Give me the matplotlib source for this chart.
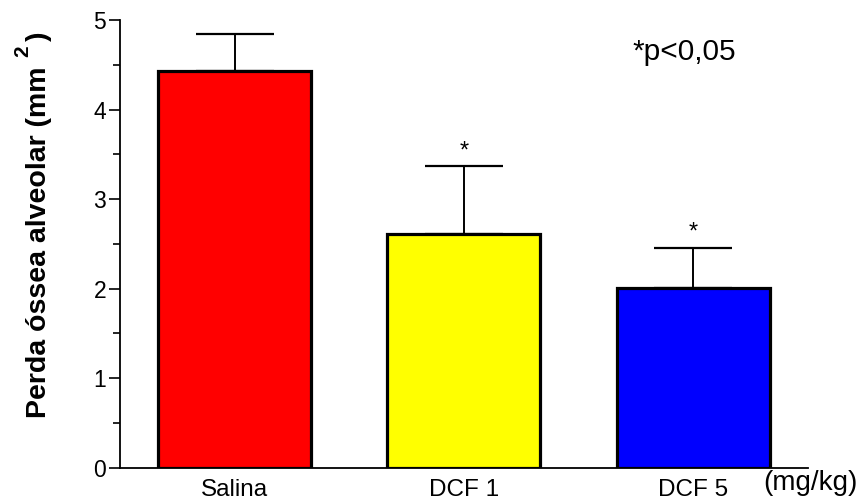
import matplotlib.pyplot as plt
import numpy as np

grupos = ["Salina", "DCF 1", "DCF 5"]
medias = [4.43, 2.61, 2.01]
erros = [0.42, 0.76, 0.45]
cores = ["#ff0000", "#ffff00", "#0000ff"]
signif = ["", "*", "*"]

plt.rcParams['font.family'] = ['Liberation Sans', 'DejaVu Sans']

fig = plt.figure(figsize=(8.63, 5.04), dpi=100)
ax = fig.add_axes([0.139, 0.072, 0.797, 0.888])

x = np.arange(len(grupos))
ax.bar(x, medias, width=0.668, color=cores, edgecolor="black", linewidth=2.3, zorder=3)
ax.errorbar(x, medias, yerr=[np.zeros(len(erros)), erros], fmt="none", ecolor="black",
            elinewidth=1.4, capsize=28, capthick=1.6, zorder=2)

for xi, m, e, s in zip(x, medias, erros, signif):
    if s:
        ax.text(xi, m + e + 0.04, s, ha="center", va="bottom", fontsize=17)

ax.set_xlim(-0.5, 2.5)
ax.set_ylim(0, 5)
ax.spines["top"].set_visible(False)
ax.spines["right"].set_visible(False)
ax.spines["left"].set_linewidth(1.3)
ax.spines["bottom"].set_linewidth(1.3)

ax.set_yticks([0, 1, 2, 3, 4, 5])
ax.set_yticks(np.arange(0.5, 5, 1), minor=True)
ax.tick_params(axis="y", which="major", length=8, width=1.2, labelsize=16.5, pad=2)
ax.tick_params(axis="y", which="minor", length=5, width=1.2)
ax.set_xticks(x)
ax.set_xticklabels(grupos, fontsize=17.5)
ax.tick_params(axis="x", length=0, pad=8)

# rótulo do eixo y montado à mão para o expoente ficar grande como no original
kw = dict(rotation=90, rotation_mode="anchor", ha="center", va="baseline", fontweight="bold")
fig.text(0.0533, 0.520, "Perda óssea alveolar (mm", fontsize=20.5, **kw)
fig.text(0.0324, 0.898, "2", fontsize=15, **kw)
fig.text(0.0533, 0.9286, ")", fontsize=20.5, **kw)

ax.text(2.513, -0.02, "(mg/kg)", ha="center", va="top", fontsize=20, clip_on=False)
ax.text(1.963, 4.64, "*p<0,05", ha="center", va="center", fontsize=21.5)

fig.savefig("out.png", dpi=100)
